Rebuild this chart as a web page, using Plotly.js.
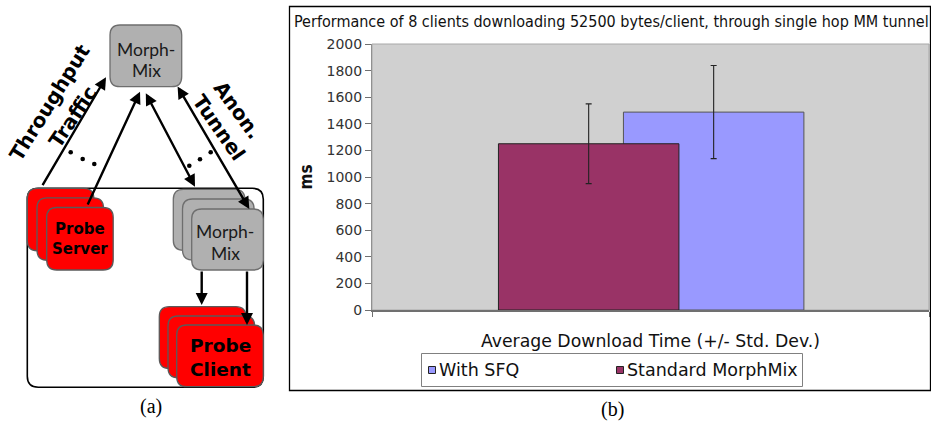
<!DOCTYPE html>
<html>
<head>
<meta charset="utf-8">
<script src="https://cdn.plot.ly/plotly-3.0.1.min.js"></script>
<style>html,body{margin:0;padding:0;background:#fff;}#chart{width:931px;height:428px;}</style>
</head>
<body>
<div id="chart"></div>
<script>
// ---- data ----
const chartTitle = "Performance of 8 clients downloading 52500 bytes/client, through single hop MM tunnel";
const category = ["Average Download Time (+/- Std. Dev.)"];
const seriesNames = ["With SFQ", "Standard MorphMix"];
const meanMs = [1488, 1250];
const stdMs = [350, 300];
const yTitle = "ms";
const captions = ["(a)", "(b)"];
const diagramLabels = ["Morph-", "Mix", "Probe", "Server", "Probe", "Client", "Throughput", "Traffic", "Anon.", "Tunnel"];

// ---- helpers (pixel -> paper) ----
const W = 931, H = 428;
const px = x => x / W;
const py = y => 1 - y / H;
function rrect(x0, y0, x1, y1, r) {
  const P = (x, y) => px(x) + ',' + py(y);
  return 'M' + P(x0 + r, y0) + ' L' + P(x1 - r, y0) + ' Q' + P(x1, y0) + ' ' + P(x1, y0 + r) +
    ' L' + P(x1, y1 - r) + ' Q' + P(x1, y1) + ' ' + P(x1 - r, y1) +
    ' L' + P(x0 + r, y1) + ' Q' + P(x0, y1) + ' ' + P(x0, y1 - r) +
    ' L' + P(x0, y0 + r) + ' Q' + P(x0, y0) + ' ' + P(x0 + r, y0) + ' Z';
}

const colors = ['#9999ff', '#993366'];
const outlines = ['#555555', '#222222'];
const offsets = [-0.0486, -0.273];

const traces = seriesNames.map((n, i) => ({
  type: 'bar', name: n, x: category, y: [meanMs[i]],
  width: 0.324, offset: offsets[i],
  marker: {color: colors[i], line: {color: outlines[i], width: 1}},
  error_y: {type: 'data', array: [stdMs[i]], visible: true, color: '#222', thickness: 1.1, width: 3},
  hoverinfo: 'skip', showlegend: false
}));

const shapes = [];
const annotations = [];

// panel (b) frame
shapes.push({type: 'rect', xref: 'paper', yref: 'paper', x0: px(289.5), x1: px(930.5), y0: py(6.5), y1: py(390.5),
  line: {color: '#000', width: 1.3}, fillcolor: 'rgba(0,0,0,0)'});
// plot area border
shapes.push({type: 'rect', xref: 'x domain', yref: 'y domain', x0: 0, x1: 1, y0: 0, y1: 1,
  line: {color: '#a8a8a8', width: 1}, fillcolor: 'rgba(0,0,0,0)', layer: 'below'});

// legend (manual)
shapes.push({type: 'rect', xref: 'paper', yref: 'paper', x0: px(421.5), x1: px(802.5), y0: py(353.5), y1: py(386.5),
  line: {color: '#808080', width: 1}, fillcolor: '#fff'});
const legX = [428, 616];
seriesNames.forEach((n, i) => {
  shapes.push({type: 'rect', xref: 'paper', yref: 'paper', x0: px(legX[i] + 0.5), x1: px(legX[i] + 7.5),
    y0: py(366.5), y1: py(373.5), line: {color: '#222', width: 1}, fillcolor: colors[i]});
  annotations.push({text: n, xref: 'paper', yref: 'paper', x: px(legX[i] + 9), y: py(370), xanchor: 'left', yanchor: 'middle',
    showarrow: false, font: {family: 'DejaVu Sans', size: 17.5, color: '#111'}});
});

// ---- diagram (a) ----
shapes.push({type: 'path', xref: 'paper', yref: 'paper', path: rrect(27.3, 188.3, 263.3, 387.3, 11),
  line: {color: '#000', width: 1.6}, fillcolor: '#fff'});
function stack(tls, w, h, fill, edge) {
  tls.forEach(t => shapes.push({type: 'path', xref: 'paper', yref: 'paper', path: rrect(t[0], t[1], t[0] + w, t[1] + h, 10),
    line: {color: edge, width: 1.3}, fillcolor: fill}));
}
stack([[27.3, 188.3], [37, 197.8], [46.7, 207.5]], 66.5, 62.5, '#ff0000', '#5a5a5a');
stack([[173.3, 189.3], [182.5, 199], [191.7, 209]], 71.6, 61, '#b0b0b0', '#6e6e6e');
stack([[159.3, 306.7], [168, 316], [176.7, 325]], 86.6, 61.7, '#ff0000', '#5a5a5a');
stack([[110, 25]], 71.7, 61.7, '#b0b0b0', '#6e6e6e');

// dots
[[70.7, 152.3], [82.7, 159], [94.3, 164], [189.3, 165.7], [200, 159.3], [210.7, 152.3]].forEach(d => {
  shapes.push({type: 'circle', xref: 'paper', yref: 'paper', x0: px(d[0] - 2.3), x1: px(d[0] + 2.3), y0: py(d[1] - 2.3), y1: py(d[1] + 2.3),
    line: {width: 0}, fillcolor: '#000'});
});

// arrows: [tipx, tipy, tailx, taily, double]
[[106, 77.3, 41.7, 186.7, false], [140, 91.7, 87, 206, false], [195, 186.7, 145, 91.7, true],
 [249.3, 209, 176.7, 85, true], [201.7, 305, 201.7, 270, false], [247, 325, 247, 270, false]].forEach(a => {
  annotations.push({text: '', xref: 'paper', yref: 'paper', x: px(a[0]), y: py(a[1]), ax: a[2] - a[0], ay: a[3] - a[1],
    showarrow: true, arrowhead: 2, startarrowhead: 2, arrowside: a[4] ? 'end+start' : 'end', arrowsize: 1, startarrowsize: 1,
    arrowwidth: 2.4, arrowcolor: '#000'});
});

function label(t, x, y, size, bold, color, angle, fam) {
  annotations.push({text: bold ? '<b>' + t + '</b>' : t, xref: 'paper', yref: 'paper', x: px(x), y: py(y), xanchor: 'center', yanchor: 'middle',
    showarrow: false, textangle: angle || 0, font: {family: fam || 'DejaVu Sans', size: size, color: color}});
}
label(diagramLabels[0], 146, 49, 17.5, false, '#1a1a1a', 0, 'Lato');
label(diagramLabels[1], 146, 70.7, 17.5, false, '#1a1a1a', 0, 'Lato');
label(diagramLabels[0], 225, 231.7, 17.5, false, '#1a1a1a', 0, 'Lato');
label(diagramLabels[1], 225, 253.3, 17.5, false, '#1a1a1a', 0, 'Lato');
label(diagramLabels[2], 80, 229.3, 15, true, '#000');
label(diagramLabels[3], 80, 249, 15, true, '#000');
label(diagramLabels[4], 220, 345, 18.5, true, '#000');
label(diagramLabels[5], 220, 369, 18.5, true, '#000');
label(diagramLabels[6], 49, 102.5, 20, true, '#000', -58);
label(diagramLabels[7], 72.5, 116.5, 20, true, '#000', -56);
label(diagramLabels[8], 237.5, 110, 20, true, '#000', 54);
label(diagramLabels[9], 219.5, 127.5, 20, true, '#000', 55);

// captions
label(captions[0], 151, 406, 20, false, '#000', 0, 'Liberation Serif');
label(captions[1], 612.5, 409, 20, false, '#000', 0, 'Liberation Serif');

const layout = {
  width: W, height: H,
  margin: {l: 0, r: 0, t: 0, b: 0, pad: 0},
  paper_bgcolor: '#fff', plot_bgcolor: '#d0d0d0',
  barmode: 'overlay', showlegend: false,
  title: {text: chartTitle, x: px(294), xanchor: 'left', y: py(21.5), yanchor: 'middle',
    font: {family: 'DejaVu Sans Condensed, DejaVu Sans', size: 16, color: '#111'}},
  xaxis: {domain: [px(372), px(929)], type: 'category', range: [-0.5, 0.5], fixedrange: true,
    showticklabels: false, tickson: 'boundaries', ticks: 'outside', ticklen: 5, tickcolor: '#707070',
    showline: true, linecolor: '#707070', linewidth: 1.5, showgrid: false, zeroline: false,
    title: {text: category[0], standoff: 24, font: {family: 'DejaVu Sans', size: 17.3, color: '#111'}}},
  yaxis: {domain: [1 - 310 / H, 1 - 44 / H], range: [0, 2000], dtick: 200, fixedrange: true,
    ticks: 'outside', ticklen: 6, tickcolor: '#707070', showline: true, linecolor: '#909090', linewidth: 1,
    showgrid: false, zeroline: false,
    tickfont: {family: 'DejaVu Sans', size: 14, color: '#333'},
    title: {text: '<b>' + yTitle + '</b>', standoff: 9, font: {family: 'DejaVu Sans Condensed, DejaVu Sans', size: 17, color: '#111'}}},
  shapes: shapes, annotations: annotations
};
Plotly.newPlot('chart', traces, layout, {staticPlot: true, displayModeBar: false});
</script>
</body>
</html>
